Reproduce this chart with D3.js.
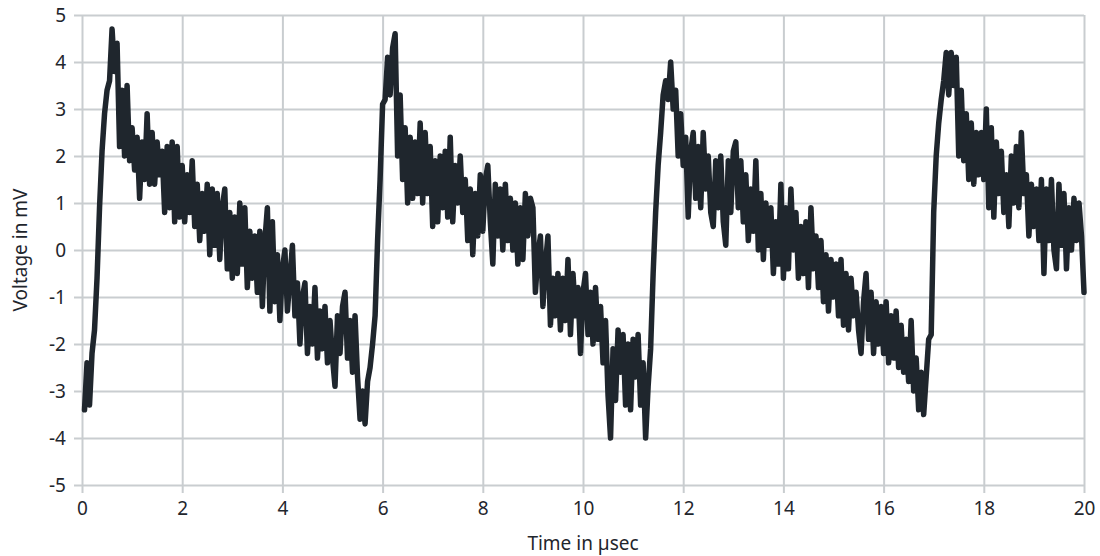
<!DOCTYPE html>
<html>
<head>
<meta charset="utf-8">
<script src="https://cdn.jsdelivr.net/npm/d3@7"></script>
<style>
  body { margin: 0; background: #fff; }
  text { font-family: "Noto Sans", "Open Sans", sans-serif; fill: #1f262d; }
</style>
</head>
<body>
<div id="chart"></div>
<script>
// sampled trace, one value every 0.05 µsec starting at 0.05 µsec
const sampleStep = 0.05
const voltage = [
  // 0.05 - 1.00
  -3.4, -2.4, -3.3, -2.2, -1.7, -0.6, 0.9, 2.1, 2.9, 3.4, 3.6, 4.7, 3.8, 4.4, 2.2, 3.4, 2.0, 3.5, 1.9, 2.6,
  // 1.05 - 2.00
  1.7, 2.4, 1.1, 2.3, 1.5, 2.9, 1.4, 2.5, 1.4, 2.3, 1.6, 2.1, 0.8, 2.2, 0.9, 2.3, 0.6, 2.2, 0.7, 1.8,
  // 2.05 - 3.00
  0.6, 1.6, 0.8, 1.9, 0.5, 1.4, 0.2, 1.2, 0.4, 1.4, -0.1, 1.3, 0.1, 1.2, -0.2, 0.9, 1.3, -0.4, 0.8, -0.6,
  // 3.05 - 4.00
  0.7, -0.5, 1.0, -0.3, 0.9, -0.8, 0.4, -0.6, 0.3, -0.9, 0.4, -1.2, 0.2, 0.9, -1.3, 0.6, -1.1, -0.1, -1.5, -0.4,
  // 4.05 - 5.00
  0.0, -1.3, -0.6, 0.1, -1.4, -0.7, -2.0, -1.0, -0.7, -2.2, -1.2, -2.0, -0.8, -2.3, -1.3, -2.1, -1.2, -2.4, -1.5, -2.3,
  // 5.05 - 6.00
  -2.9, -1.4, -2.2, -1.2, -0.9, -2.3, -1.5, -2.6, -1.4, -2.7, -3.6, -3.0, -3.7, -2.8, -2.5, -2.0, -1.4, 0.2, 1.5, 3.1,
  // 6.05 - 7.00
  3.2, 4.1, 3.3, 4.3, 4.6, 2.0, 3.3, 1.5, 2.6, 1.0, 2.4, 1.1, 2.3, 1.2, 2.7, 1.0, 2.5, 1.2, 2.2, 0.5,
  // 7.05 - 8.00
  1.9, 0.6, 2.0, 0.9, 2.1, 0.7, 2.4, 0.6, 1.8, 1.0, 2.0, 0.8, 1.5, 0.2, 1.3, -0.1, 1.2, 0.3, 1.6, 0.4,
  // 8.05 - 9.00
  1.5, 1.8, 0.6, -0.3, 1.4, 0.3, 1.3, 0.0, 1.4, 0.2, 1.1, 0.0, 1.0, -0.3, 0.9, -0.2, 1.2, 0.3, 1.1, 0.9,
  // 9.05 - 10.00
  -0.9, -0.1, 0.3, -1.2, -0.3, 0.3, -1.6, -0.6, -1.4, -0.5, -1.7, -0.6, -1.5, -0.2, -1.8, -0.5, -1.4, -0.8, -2.2, -0.9,
  // 10.05 - 11.00
  -0.5, -1.8, -0.9, -2.0, -0.8, -1.9, -1.2, -2.4, -1.5, -3.1, -4.0, -2.1, -3.2, -1.7, -2.6, -1.8, -3.3, -2.0, -3.4, -1.9,
  // 11.05 - 12.00
  -2.7, -1.8, -3.3, -2.4, -4.0, -2.9, -2.1, -0.5, 0.8, 1.8, 2.5, 3.3, 3.6, 3.2, 4.0, 3.0, 3.4, 2.0, 2.9, 1.8,
  // 12.05 - 13.00
  2.4, 0.7, 2.1, 2.5, 1.1, 2.2, 0.9, 2.5, 1.3, 2.0, 0.8, 0.5, 1.9, 0.9, 2.0, 0.6, 0.1, 1.9, 0.8, 2.1,
  // 13.05 - 14.00
  2.3, 0.9, 1.9, 0.6, 1.6, 0.2, 1.3, 0.4, 1.9, 0.0, 1.2, -0.2, 1.0, 0.1, 0.9, -0.5, 0.6, -0.3, 1.4, -0.6,
  // 14.05 - 15.00
  0.9, -0.4, 1.3, 0.0, 0.8, -0.6, 0.5, -0.5, 0.6, -0.8, 0.9, -0.4, 0.3, -0.8, 0.2, -1.1, -0.1, -1.3, -0.2, -1.0,
  // 15.05 - 16.00
  -0.3, -1.4, -0.2, -1.6, -0.5, -1.7, -0.6, -1.4, -0.9, -1.7, -2.2, -1.1, -0.5, -1.9, -0.9, -2.2, -1.1, -2.0, -1.2, -2.2,
  // 16.05 - 17.00
  -1.1, -2.4, -1.4, -2.3, -1.3, -2.5, -1.6, -2.6, -1.9, -2.8, -1.5, -3.0, -2.3, -3.4, -2.6, -3.5, -2.7, -1.9, -1.8, 0.8,
  // 17.05 - 18.00
  2.0, 2.7, 3.2, 3.6, 4.2, 3.3, 4.2, 3.5, 4.1, 2.0, 3.4, 1.9, 2.9, 1.5, 2.7, 1.4, 2.5, 1.6, 2.5, 1.5,
  // 18.05 - 19.00
  3.0, 0.9, 2.6, 0.7, 2.3, 1.2, 2.1, 0.8, 1.6, 0.5, 2.0, 1.0, 2.2, 0.9, 2.5, 1.2, 1.6, 0.3, 1.4, 0.5,
  // 19.05 - 20.00
  1.3, 0.2, 1.5, -0.5, 1.3, 0.2, 1.5, 0.0, -0.4, 1.4, 0.1, 1.2, -0.4, 0.9, 0.0, 1.1, 0.2, 1.0, 0.3, -0.9
]
const xTicks = [0, 2, 4, 6, 8, 10, 12, 14, 16, 18, 20]
const yTicks = [-5, -4, -3, -2, -1, 0, 1, 2, 3, 4, 5]

const W = 1100, H = 556
const margin = { top: 15, right: 16, bottom: 71, left: 82 }
const w = W - margin.left - margin.right
const h = H - margin.top - margin.bottom

const svg = d3.select('#chart').append('svg')
  .attr('width', W)
  .attr('height', H)

const g = svg.append('g')
  .attr('transform', `translate(${margin.left},${margin.top})`)

const x = d3.scaleLinear().domain([0, 20]).range([0, w])
const y = d3.scaleLinear().domain([-5, 5]).range([h, 0])

const gridColour = '#c9cdd0'

// y axis with full-width grid lines
const gy = g.append('g')
  .call(d3.axisLeft(y).tickValues(yTicks).tickSize(8).tickPadding(8).tickFormat(d => String(d)))
gy.select('.domain').remove()
gy.selectAll('.tick line')
  .attr('x1', -8).attr('x2', w)
  .attr('stroke', gridColour).attr('stroke-width', 2)
gy.selectAll('.tick text')
  .attr('font-size', 19).attr('font-family', null)

// x axis with full-height grid lines
const gx = g.append('g')
  .attr('transform', `translate(0,${h})`)
  .call(d3.axisBottom(x).tickValues(xTicks).tickSize(8).tickPadding(9).tickFormat(d => String(d)))
gx.select('.domain').remove()
gx.selectAll('.tick line')
  .attr('y1', -h).attr('y2', 8)
  .attr('stroke', gridColour).attr('stroke-width', 2)
gx.selectAll('.tick text')
  .attr('font-size', 19).attr('font-family', null)

const trace = voltage.map((v, i) => ({ t: (i + 1) * sampleStep, v: v }))

const line = d3.line()
  .x(d => x(d.t))
  .y(d => y(d.v))

g.append('path')
  .datum(trace)
  .attr('d', line)
  .attr('fill', 'none')
  .attr('stroke', '#1f262d')
  .attr('stroke-width', 5.5)
  .attr('stroke-linejoin', 'round')
  .attr('stroke-linecap', 'round')

// axis titles
svg.append('text')
  .attr('x', margin.left + w / 2)
  .attr('y', 550)
  .attr('text-anchor', 'middle')
  .attr('font-size', 19)
  .text('Time in µsec')

svg.append('text')
  .attr('transform', `translate(27,${margin.top + h / 2}) rotate(-90)`)
  .attr('text-anchor', 'middle')
  .attr('font-size', 19)
  .text('Voltage in mV')
</script>
</body>
</html>
